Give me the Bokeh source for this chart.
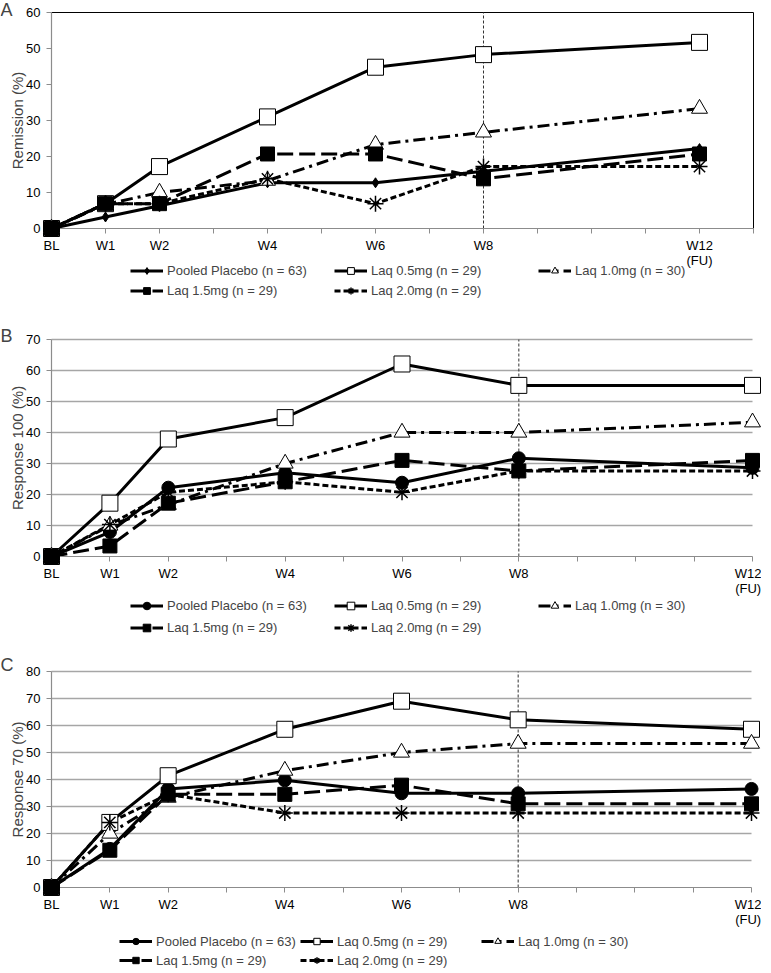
from bokeh.plotting import figure
from bokeh.models import FixedTicker, Legend, LegendItem, Range1d, Label
from bokeh.layouts import column
from bokeh.embed import file_html
from bokeh.resources import INLINE

# ---------------- data ----------------
weeks = [0, 1, 2, 4, 6, 8, 12]
week_labels = ["BL", "W1", "W2", "W4", "W6", "W8", "W12\n(FU)"]
series_labels = ["Pooled Placebo (n = 63)", "Laq 0.5mg (n = 29)", "Laq 1.0mg (n = 30)",
                 "Laq 1.5mg (n = 29)", "Laq 2.0mg (n = 29)"]

# Panel A: Remission (%)
remission_placebo = [0, 3.2, 6.3, 12.7, 12.7, 15.9, 22.2]
remission_laq05 = [0, 6.9, 17.2, 31.0, 44.8, 48.3, 51.7]
remission_laq10 = [0, 6.7, 10.0, 13.3, 23.3, 26.7, 33.3]
remission_laq15 = [0, 6.9, 6.9, 20.7, 20.7, 13.8, 20.7]
remission_laq20 = [0, 6.9, 6.9, 13.8, 6.9, 17.2, 17.2]

# Panel B: Response 100 (%)
resp100_placebo = [0, 7.9, 22.2, 27.0, 23.8, 31.7, 28.6]
resp100_laq05 = [0, 17.2, 37.9, 44.8, 62.1, 55.2, 55.2]
resp100_laq10 = [0, 10.0, 16.7, 30.0, 40.0, 40.0, 43.3]
resp100_laq15 = [0, 3.4, 17.2, 24.1, 31.0, 27.6, 31.0]
resp100_laq20 = [0, 10.3, 20.7, 24.1, 20.7, 27.6, 27.6]

# Panel C: Response 70 (%)
resp70_placebo = [0, 14.3, 36.5, 39.7, 34.9, 34.9, 36.5]
resp70_laq05 = [0, 24.1, 41.4, 58.6, 69.0, 62.1, 58.6]
resp70_laq10 = [0, 20.0, 33.3, 43.3, 50.0, 53.3, 53.3]
resp70_laq15 = [0, 13.8, 34.5, 34.5, 37.9, 31.0, 31.0]
resp70_laq20 = [0, 24.1, 34.5, 27.6, 27.6, 27.6, 27.6]

FONT = "Liberation Sans"
AXIS_GRAY = "#8c8c8c"
FIG_W = 761

# style per series: (line_dash, marker, fill, size)
styles = [
    ("solid", None, "black", 13),
    ("solid", "square", "white", 16),
    ("12 5 3 5", "triangle", "white", 16),
    ("16 6", "square", "black", 14),
    ("6 3", "asterisk", "black", 16),
]


def make_panel(letter, ylabel, ymax, series, placebo_marker, placebo_size, x_last,
               boxed, grid, fig_h, x0_px, x12_px, ytop_px, y0_px,
               legend_left_px, legend_top_px, glyph_w, glyph_h, spacing, label_w,
               letter_px):
    # pixel geometry (figure coordinates) -> data ranges
    ppw = (x12_px - x0_px) / 12.0
    ppu = (y0_px - ytop_px) / ymax
    xr = Range1d(-x0_px / ppw, (FIG_W - x0_px) / ppw)
    yr = Range1d(-(fig_h - y0_px) / ppu, ymax + ytop_px / ppu)
    p = figure(width=FIG_W, height=fig_h, x_range=xr, y_range=yr,
               min_border=0, min_border_left=0, min_border_right=0,
               min_border_top=0, min_border_bottom=0,
               output_backend="svg", toolbar_location=None, outline_line_color=None)
    p.xgrid.visible = False
    p.ygrid.visible = False

    yticks = list(range(0, ymax + 1, 10))
    if grid:
        gy = yticks[1:]
        p.segment(x0=[0] * len(gy), y0=gy, x1=[x_last] * len(gy), y1=gy,
                  line_color="#a6a6a6", line_width=1.4, level="underlay")

    # x axis
    ticks = list(range(0, x_last + 1))
    overrides = {t: "" for t in ticks}
    for w, lab in zip(weeks, week_labels):
        overrides[w] = lab
    p.xaxis.fixed_location = 0
    p.xaxis.bounds = (0, x_last)
    p.xaxis.ticker = FixedTicker(ticks=ticks)
    p.xaxis.major_label_overrides = overrides
    p.xaxis.minor_tick_line_color = None
    p.xaxis.major_tick_in = 0
    p.xaxis.major_tick_out = 5
    p.xaxis.major_label_standoff = 4
    p.xaxis.major_label_text_line_height = 1.0
    # y axis
    p.yaxis.fixed_location = 0
    p.yaxis.bounds = (0, ymax)
    p.yaxis.ticker = FixedTicker(ticks=yticks)
    p.yaxis.minor_tick_line_color = None
    p.yaxis.major_tick_in = 0
    p.yaxis.major_tick_out = 5
    p.yaxis.major_label_standoff = 6
    p.yaxis.axis_label = ylabel
    p.yaxis.axis_label_text_font = FONT
    p.yaxis.axis_label_text_font_size = "15px"
    p.yaxis.axis_label_text_font_style = "normal"
    p.yaxis.axis_label_standoff = -3
    for ax in (p.xaxis, p.yaxis):
        ax.axis_line_color = AXIS_GRAY
        ax.axis_line_width = 1.2
        ax.major_tick_line_color = AXIS_GRAY
        ax.major_label_text_font = FONT
        ax.major_label_text_font_size = "13px"
        ax.major_label_text_color = "black"

    if boxed:
        p.segment(x0=[0, x_last], y0=[ymax, 0], x1=[x_last, x_last], y1=[ymax, ymax],
                  line_color="black", line_width=1)

    # vertical reference line at W8
    p.segment(x0=[8], y0=[0], x1=[8], y1=[ymax], line_color="#333333",
              line_width=1, line_dash="3 2")

    items = []
    for i, (ys, lab) in enumerate(zip(series, series_labels)):
        dash, marker, fill, size = styles[i]
        if i == 0:
            marker, size = placebo_marker, placebo_size
        lr = p.line(weeks, ys, line_color="black", line_width=3, line_dash=dash)
        sr = p.scatter(weeks, ys, marker=marker, size=size, fill_color=fill,
                       line_color="black", line_width=1.5 if marker == "asterisk" else 1,
                       level="overlay")
        items.append(LegendItem(label=lab, renderers=[lr, sr]))

    legend_h = 2 * glyph_h + spacing
    legend = Legend(items=items, orientation="horizontal", ncols=3,
                    location=(legend_left_px, fig_h - legend_top_px - legend_h),
                    border_line_color=None, background_fill_alpha=0,
                    padding=0, margin=0, spacing=spacing,
                    glyph_width=glyph_w, glyph_height=glyph_h, label_height=glyph_h,
                    label_width=label_w, label_standoff=4,
                    label_text_font=FONT, label_text_font_size="13px")
    p.add_layout(legend)

    lx = (letter_px[0] - x0_px) / ppw
    ly = ymax + (ytop_px - letter_px[1]) / ppu
    p.add_layout(Label(x=lx, y=ly, text=letter, text_font=FONT, text_font_size="18px",
                       text_baseline="middle", text_align="left", level="overlay"))
    return p


# image x = figure x + 5 (layout is centred in the 771px window)
pA = make_panel("A", "Remission (%)", 60,
                [remission_placebo, remission_laq05, remission_laq10, remission_laq15, remission_laq20],
                "diamond", 10, 13, True, False, 318,
                51, 51 + 12 * 54.0, 12, 228,
                130, 262, 33, 17, 3, 164, (0, 9))
pB = make_panel("B", "Response 100 (%)", 70,
                [resp100_placebo, resp100_laq05, resp100_laq10, resp100_laq15, resp100_laq20],
                "circle", 13, 12, False, True, 327,
                51, 752, 21, 238,
                130, 278, 33, 19, 3, 164, (0, 17))
pC = make_panel("C", "Response 70 (%)", 80,
                [resp70_placebo, resp70_laq05, resp70_laq10, resp70_laq15, resp70_laq20],
                "circle", 13, 12, False, True, 324,
                51, 751, 26, 242,
                119, 288, 33, 16, 3, 141, (0, 19))

layout = column(pA, pB, pC, spacing=0)
open("out.html", "w").write(file_html(layout, INLINE))
